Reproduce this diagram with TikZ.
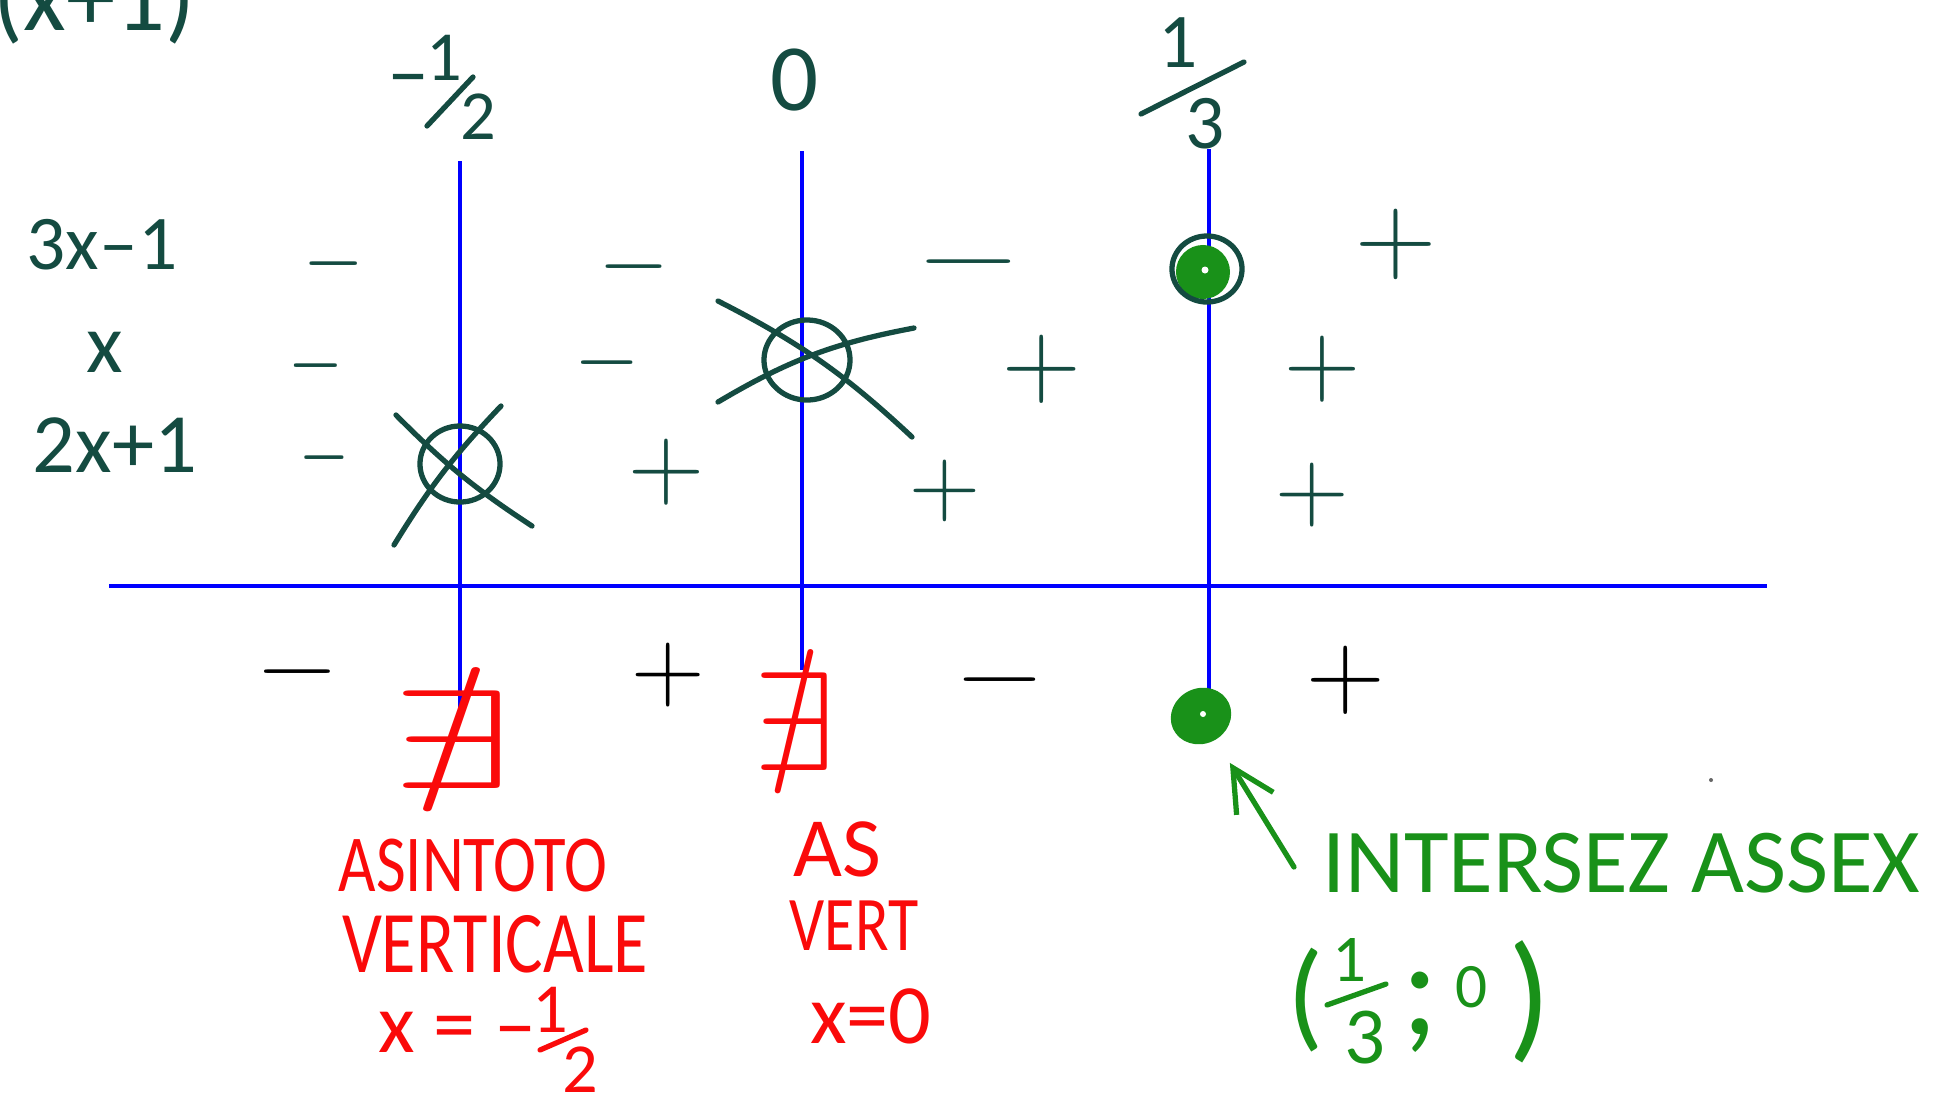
\RequirePackage{fix-cm}
\documentclass[tikz,border=0pt]{standalone}
\usepackage{amssymb}
\usepackage{graphicx}
\usepackage{fontspec}
\setmainfont{Carlito}
\newfontfamily\handn{Carlito}[FakeStretch=0.8]
\usetikzlibrary{arrows.meta,shapes.geometric}
\definecolor{ink}{RGB}{20,75,65}
\definecolor{redp}{RGB}{250,10,10}
\definecolor{grn}{RGB}{25,145,25}
\definecolor{bl}{RGB}{0,0,255}
\tikzset{
  every node/.style={inner sep=0pt, outer sep=0pt},
  tx/.style={text=ink, font=\fontsize{#1}{#1}\selectfont},
  rtx/.style={text=redp, font=\handn\fontsize{#1}{#1}\selectfont},
  rtxw/.style={text=redp, font=\fontsize{#1}{#1}\selectfont},
  gtx/.style={text=grn, font=\fontsize{#1}{#1}\selectfont},
  sg/.style={text=ink, font=\fontsize{#1}{#1}\selectfont},
  rs/.style={text=black, font=\fontsize{#1}{#1}\selectfont},
  inkline/.style={draw=ink, line width=1.5pt, line cap=round},
  redline/.style={draw=redp, line width=1.5pt, line cap=round},
  greenline/.style={draw=grn, line width=1.5pt, line cap=round},
  blueline/.style={draw=bl, line width=1.05pt},
}
\begin{document}
\begin{tikzpicture}[x=0.01cm,y=-0.01cm]
\useasboundingbox (0,0) rectangle (1941,1102);
\fill[white] (0,0) rectangle (1941,1102);

% fragment at top left
\node[tx=28, anchor=base west] (frag) at (-6,30) {(x+1)};

% row labels
\node[tx=22] (r1) at (102,245) {3x–1};
\node[tx=24] (r2) at (105,352) {x};
\node[tx=24] (r3) at (115,445) {2x+1};

% top labels
\node[tx=24] (mh) at (409,87) {–};
\node[tx=20] (mh1) at (444,58) {1};
\node[tx=20] (mh2) at (478,117) {2};
\draw[inkline] (427,126) -- (473,77);
\node[tx=27] (z0) at (795,80) {0};
\node[tx=22] (t1) at (1178,43) {1};
\node[tx=22] (t3) at (1205,124) {3};
\draw[inkline] (1141,114) -- (1244,62);

% blue axis and lines
\draw[blueline] (109,586) -- (1767,586);
\draw[blueline] (460,161) -- (460,712);
\draw[blueline] (802,151) -- (802,670);
\draw[blueline] (1209,149) -- (1209,700);

% crossed circles
\draw[inkline] (460,464) ellipse [x radius=0.40cm, y radius=0.38cm];
\draw[inkline] (396,415) to[bend right=6] (532,526);
\draw[inkline] (394,545) to[bend left=6] (501,406);
\draw[inkline] (807,360) ellipse [x radius=0.43cm, y radius=0.40cm];
\draw[inkline] (718,301) to[bend left=8] (912,437);
\draw[inkline] (718,402) to[bend left=10] (914,328);

% zero of numerator
\fill[grn] (1203,272) circle (0.27cm);
\draw[inkline] (1207,269) ellipse [x radius=0.35cm, y radius=0.33cm];
\fill[white] (1205,270) circle (0.035cm);

% signs row 1
\node[sg=26] (s11) at (334,264) {\scalebox{0.85}[1]{$-$}};
\node[sg=26] (s12) at (634,267) {$-$};
\node[sg=26] (s13) at (969,262) {\scalebox{1.5}[1]{$-$}};
\node[sg=32] (s14) at (1396,244) {$+$};
% row 2
\node[sg=26] (s21) at (316,366) {\scalebox{0.77}[1]{$-$}};
\node[sg=26] (s22) at (607,363) {\scalebox{0.92}[1]{$-$}};
\node[sg=31] (s23) at (1042,369) {$+$};
\node[sg=30] (s24) at (1322,369) {$+$};
% row 3
\node[sg=26] (s31) at (324,458) {\scalebox{0.7}[1]{$-$}};
\node[sg=30] (s32) at (666,472) {$+$};
\node[sg=28] (s33) at (945,491) {$+$};
\node[sg=29] (s34) at (1312,495) {$+$};
% result row
\node[rs=26] (q1) at (297,672) {\scalebox{1.18}[1]{$-$}};
\node[rs=29] (q2) at (668,675) {$+$};
\node[rs=26] (q3) at (1000,680) {\scalebox{1.28}[1]{$-$}};
\node[rs=31] (q4) at (1346,680) {$+$};

% red annotations
\node[text=redp, font=\fontsize{40}{40}\selectfont] (ne1) at (452,740) {\scalebox{1.55}[1]{$\nexists$}};
\node[text=redp, font=\fontsize{40}{40}\selectfont] (ne2) at (795,722) {\scalebox{1.05}[1]{$\nexists$}};
\node[rtx=23] (asin) at (473,866) {ASINTOTO};
\node[rtx=25] (verti) at (495,944) {VERTICALE};
\node[rtxw=24, anchor=west] (xeq) at (378,1032) {x = –};
\node[rtxw=20] (xeq1) at (550,1010) {1};
\draw[redline] (540,1050) -- (586,1030);
\node[rtxw=20] (xeq2) at (580,1070) {2};
\node[rtxw=24] (as) at (837,849) {AS};
\node[rtx=22] (vt) at (854,926) {VERT};
\node[rtxw=24] (x0) at (871,1016) {x=0};

% green annotations
\node[ellipse, fill=grn, draw=grn, minimum width=0.6cm, minimum height=0.54cm, rotate=25] (gdot) at (1201,716) {};
\fill[white] (1203,714) circle (0.03cm);
\node[gtx=26, anchor=west] (inter) at (1322,863) {INTERSEZ ASSEX};
\coordinate (atail) at (1294,867);
\draw[greenline, -{Straight Barb[length=4.2mm,width=4.3mm]}, shorten >=0.28cm] (atail) -- (gdot);
\node[gtx=34] (lp) at (1306,1000) {(};
\node[gtx=19] (g1) at (1349,960) {1};
\draw[greenline] (1327,1005) -- (1386,984);
\node[gtx=23] (g3) at (1365,1038) {3};
\node[gtx=40] (gsc) at (1420,1012) {;};
\node[gtx=18] (g0) at (1472,987) {0};
\node[gtx=40] (rp) at (1530,1002) {)};

\fill[black!60] (1711,780) circle (0.02cm);
\end{tikzpicture}
\end{document}
